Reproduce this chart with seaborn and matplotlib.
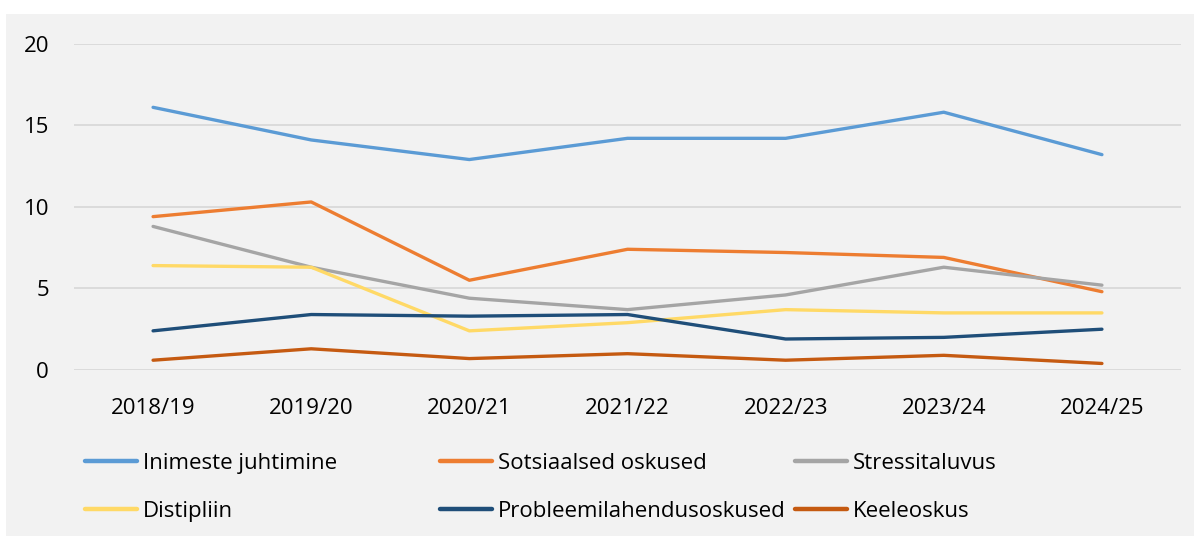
import matplotlib
matplotlib.use("Agg")
import matplotlib.pyplot as plt
from matplotlib.patches import Rectangle
from matplotlib.lines import Line2D
import seaborn as sns
import pandas as pd

years = ["2018/19", "2019/20", "2020/21", "2021/22", "2022/23", "2023/24", "2024/25"]
inimeste_juhtimine = [16.1, 14.1, 12.9, 14.2, 14.2, 15.8, 13.2]
sotsiaalsed_oskused = [9.4, 10.3, 5.5, 7.4, 7.2, 6.9, 4.8]
stressitaluvus = [8.8, 6.3, 4.4, 3.7, 4.6, 6.3, 5.2]
distipliin = [6.4, 6.3, 2.4, 2.9, 3.7, 3.5, 3.5]
probleemilahendusoskused = [2.4, 3.4, 3.3, 3.4, 1.9, 2.0, 2.5]
keeleoskus = [0.6, 1.3, 0.7, 1.0, 0.6, 0.9, 0.4]

series_names = ["Inimeste juhtimine", "Sotsiaalsed oskused", "Stressitaluvus",
                "Distipliin", "Probleemilahendusoskused", "Keeleoskus"]
series_values = [inimeste_juhtimine, sotsiaalsed_oskused, stressitaluvus,
                 distipliin, probleemilahendusoskused, keeleoskus]
colors = ["#5B9BD5", "#ED7D31", "#A5A5A5", "#FFD966", "#1F4E79", "#C55A11"]

rows = []
for name, vals in zip(series_names, series_values):
    for i, (y, v) in enumerate(zip(years, vals)):
        rows.append({"idx": i, "year": y, "value": v, "series": name})
df = pd.DataFrame(rows)

sns.set_theme(style="white")
plt.rcParams["font.family"] = ["Open Sans", "DejaVu Sans"]
plt.rcParams["text.color"] = "black"

W, H = 1197, 536
fig = plt.figure(figsize=(W / 100, H / 100), dpi=100)
fig.patch.set_facecolor("white")
fig.patches.append(Rectangle((6 / W, 0), (1194 - 6) / W, (H - 14) / H,
                             transform=fig.transFigure, facecolor="#F2F2F2",
                             edgecolor="none", zorder=-10))

ax = fig.add_axes([74 / W, 1 - 370 / H, (1181 - 74) / W, (370 - 43.7) / H])
ax.set_facecolor("none")

sns.lineplot(data=df, x="idx", y="value", hue="series", palette=colors,
             hue_order=series_names, sort=False, legend=False, ax=ax,
             linewidth=2.4, solid_capstyle="round", solid_joinstyle="round")

ax.set_xlim(-0.5, len(years) - 0.5)
ax.set_ylim(0, 20)
ax.set_xticks(range(len(years)))
ax.set_xticklabels(years)
ax.set_yticks([0, 5, 10, 15, 20])
ax.set_xlabel("")
ax.set_ylabel("")
ax.grid(axis="y", color="#D9D9D9", linewidth=1.3)
ax.set_axisbelow(True)
for s in ax.spines.values():
    s.set_visible(False)
ax.tick_params(axis="both", length=0, labelsize=16, colors="black")
ax.tick_params(axis="y", pad=18)
ax.tick_params(axis="x", pad=20)

# Legends: three columns of two entries each
col_x = [85, 440, 795]
for c in range(3):
    entries = [c, c + 3]
    handles = [Line2D([], [], color=colors[k], linewidth=3.2, solid_capstyle="round")
               for k in entries]
    labels = [series_names[k] for k in entries]
    fig.legend(handles, labels, loc="upper left",
               bbox_to_anchor=(col_x[c] / W, 1 - 453 / H),
               frameon=False, fontsize=16, handlelength=2.35,
               handletextpad=0.25, labelspacing=1.2,
               borderpad=0, borderaxespad=0, labelcolor="black")

fig.savefig("out.png", dpi=100, facecolor="white")
